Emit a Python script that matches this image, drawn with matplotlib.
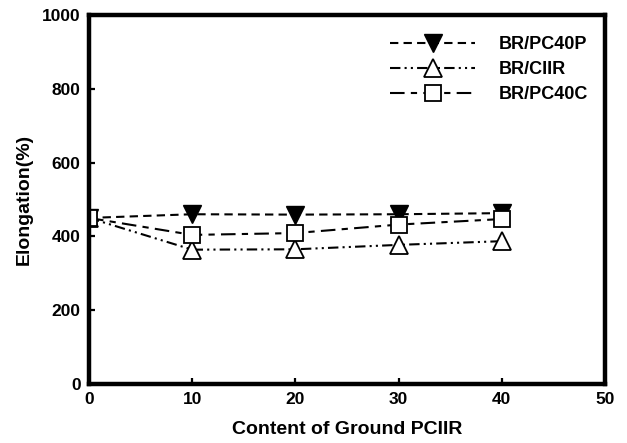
import numpy as np
import matplotlib
matplotlib.use('Agg')
import matplotlib.pyplot as plt

content = [0, 10, 20, 30, 40]
pc40p = [450, 460, 459, 460, 463]
ciir = [450, 364, 365, 377, 387]
pc40c = [450, 404, 409, 432, 447]

xticks = [0, 10, 20, 30, 40, 50]
yticks = [0, 200, 400, 600, 800, 1000]


def main():
    plt.rcParams['font.family'] = ['Liberation Sans', 'DejaVu Sans']
    plt.rcParams['font.weight'] = 'bold'

    fig = plt.figure(figsize=(6.27, 4.43), dpi=100)
    ax = fig.add_axes([0.142, 0.1332, 0.823, 0.833])

    ax.plot(content, pc40p, color='black', linestyle=(0, (4, 2.5)), linewidth=1.5,
            marker='v', markersize=13, markerfacecolor='black', markeredgecolor='black',
            label='BR/PC40P')
    ax.plot(content, ciir, color='black', linestyle=(0, (5, 2, 1, 2, 1, 2)), linewidth=1.5,
            marker='^', markersize=13, markerfacecolor='white', markeredgecolor='black',
            markeredgewidth=1.3, label='BR/CIIR')
    ax.plot(content, pc40c, color='black', linestyle=(0, (7, 3, 3, 3)), linewidth=1.5,
            marker='s', markersize=12, markerfacecolor='white', markeredgecolor='black',
            markeredgewidth=1.3, label='BR/PC40C')

    ax.set_xlim(0, 50)
    ax.set_ylim(0, 1000)
    ax.set_xticks(xticks)
    ax.set_yticks(yticks)
    ax.tick_params(direction='in', length=4.5, width=1.6, labelsize=12.5, pad=6)
    for lab in ax.get_xticklabels() + ax.get_yticklabels():
        lab.set_fontweight('bold')
    for s in ax.spines.values():
        s.set_linewidth(3.2)

    ax.set_xlabel('Content of Ground PCIIR', fontsize=14, fontweight='bold', labelpad=10)
    ax.set_ylabel('Elongation(%)', fontsize=14, fontweight='bold', labelpad=7)

    ax.legend(loc='upper left', bbox_to_anchor=(0.57, 0.962), borderaxespad=0,
              frameon=False, fontsize=13, handlelength=4.7, labelspacing=0.45,
              handletextpad=1.3)

    fig.savefig('out.png', dpi=100)


if __name__ == "__main__":
    main()
